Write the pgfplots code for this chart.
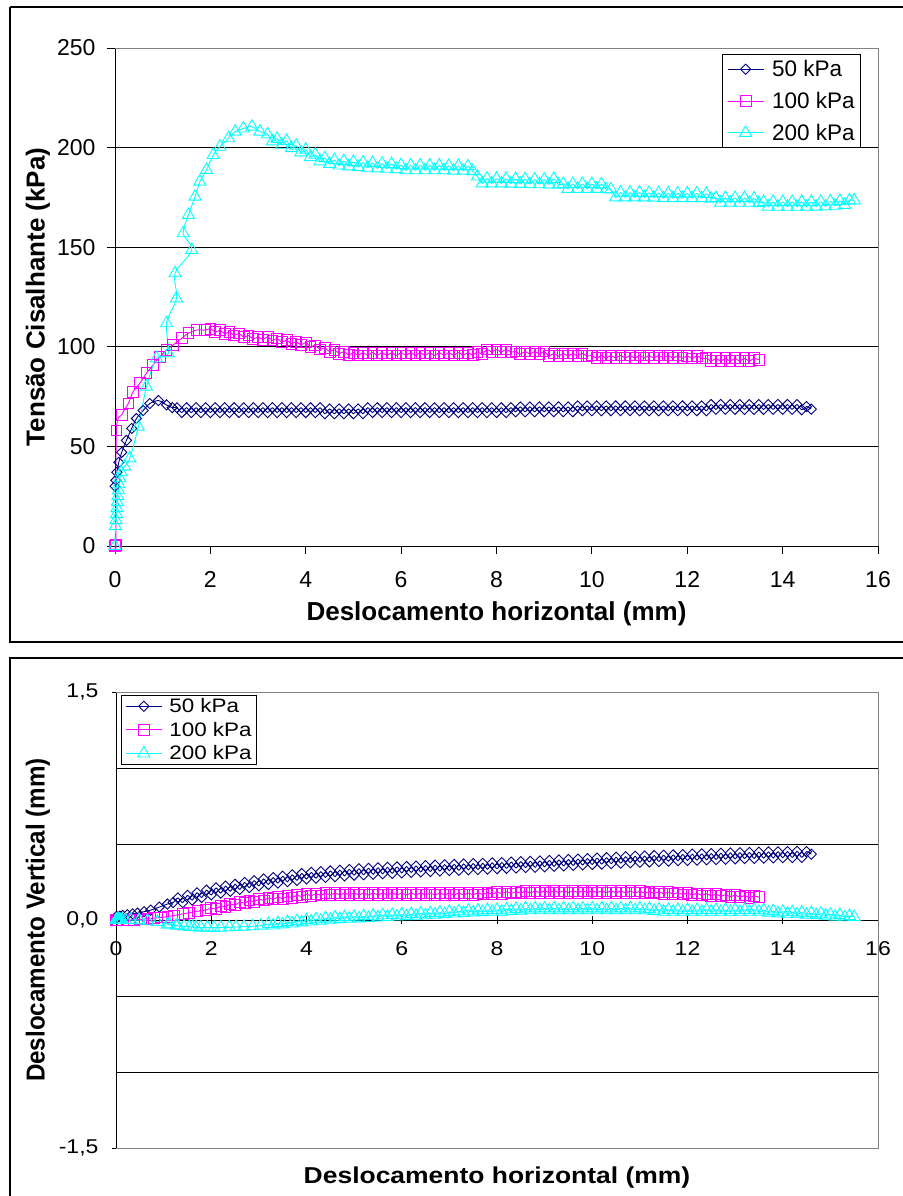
\documentclass[border=0pt]{standalone}
\usepackage{pgfplots}
\pgfplotsset{compat=1.18}
\usepackage{pgfplotstable}
\usepackage{fontspec}
\setmainfont{Liberation Sans}
\newfontfamily\wide[FakeStretch=1.15]{Liberation Sans}
\newfontfamily\narrow[FakeStretch=0.93]{Liberation Sans}

\definecolor{s50}{HTML}{000080}
\definecolor{s100}{HTML}{FF00FF}
\definecolor{s200}{HTML}{00FFFF}

% x: horizontal displacement (mm), t: shear stress (kPa), v: vertical displacement (mm)
\pgfplotstableread{
x t v
0 30 0.02
0.02 33 0.02
0.04 37 0.02
0.08 42 0.025
0.14 47 0.03
0.24 53 0.035
0.35 59 0.04
0.45 64 0.045
0.59 68 0.055
0.73 71.5 0.065
0.91 73 0.085
1.08 70.8 0.105
1.2 69.5 0.115
1.3 69.4 0.145
1.4 67.0 0.114
1.5 69.4 0.162
1.6 67.0 0.131
1.7 69.4 0.179
1.8 67.0 0.148
1.9 69.4 0.196
2.0 67.0 0.165
2.1 69.4 0.211
2.2 67.0 0.177
2.3 69.4 0.223
2.4 67.0 0.189
2.5 69.4 0.235
2.6 67.0 0.201
2.7 69.4 0.247
2.8 67.0 0.213
2.9 69.4 0.259
3.0 67.0 0.225
3.1 69.4 0.270
3.2 67.0 0.234
3.3 69.4 0.279
3.4 67.0 0.243
3.5 69.4 0.288
3.6 67.0 0.252
3.7 69.4 0.297
3.8 67.0 0.261
3.9 69.4 0.306
4.0 67.0 0.270
4.1 69.4 0.313
4.2 67.0 0.275
4.3 69.4 0.318
4.4 66.4 0.280
4.5 68.8 0.323
4.6 66.4 0.285
4.7 68.8 0.328
4.8 66.4 0.290
4.9 68.8 0.333
5.0 66.4 0.295
5.1 68.8 0.337
5.2 66.4 0.298
5.3 69.4 0.340
5.4 67.0 0.301
5.5 69.4 0.343
5.6 67.0 0.304
5.7 69.4 0.346
5.8 67.0 0.307
5.9 69.4 0.349
6.0 67.0 0.310
6.1 69.4 0.352
6.2 67.0 0.313
6.3 69.4 0.355
6.4 67.0 0.316
6.5 69.4 0.358
6.6 67.0 0.319
6.7 69.4 0.361
6.8 67.0 0.322
6.9 69.4 0.364
7.0 67.0 0.325
7.1 69.4 0.366
7.2 67.0 0.327
7.3 69.4 0.369
7.4 67.0 0.330
7.5 69.4 0.371
7.6 67.0 0.332
7.7 69.4 0.373
7.8 67.0 0.334
7.9 69.4 0.376
8.0 67.0 0.337
8.1 69.4 0.378
8.2 67.0 0.340
8.3 69.4 0.381
8.4 67.4 0.342
8.5 69.8 0.384
8.6 67.4 0.345
8.7 69.8 0.386
8.8 67.4 0.347
8.9 69.8 0.389
9.0 67.4 0.350
9.1 69.8 0.392
9.2 67.4 0.353
9.3 69.8 0.395
9.4 67.4 0.356
9.5 69.8 0.398
9.6 67.4 0.359
9.7 70.3 0.401
9.8 67.9 0.362
9.9 70.3 0.404
10.0 67.9 0.365
10.1 70.3 0.407
10.2 67.9 0.368
10.3 70.3 0.410
10.4 67.9 0.371
10.5 70.3 0.413
10.6 67.9 0.374
10.7 70.3 0.416
10.8 67.9 0.377
10.9 70.3 0.419
11.0 67.9 0.380
11.1 70.3 0.421
11.2 67.9 0.382
11.3 70.3 0.424
11.4 67.9 0.385
11.5 70.3 0.426
11.6 67.9 0.387
11.7 70.3 0.428
11.8 67.9 0.390
11.9 70.3 0.431
12.0 67.9 0.392
12.1 70.3 0.433
12.2 67.9 0.394
12.3 70.3 0.435
12.4 67.9 0.396
12.5 71.0 0.437
12.6 68.6 0.398
12.7 71.0 0.439
12.8 68.6 0.400
12.9 71.0 0.441
13.0 68.6 0.402
13.1 71.0 0.443
13.2 68.6 0.404
13.3 71.0 0.444
13.4 68.6 0.405
13.5 71.0 0.446
13.6 68.6 0.407
13.7 71.0 0.448
13.8 68.6 0.408
13.9 71.0 0.449
14.0 68.6 0.410
14.1 71.0 0.450
14.2 68.6 0.411
14.3 71.0 0.452
14.4 68.4 0.412
14.5 70.0 0.450
14.6 68.7 0.433
}\tabA

\pgfplotstableread{
x t v
0 0 0
0.02 0.5 0
0.03 58 0
0.14 65.8 0
0.28 71.6 0
0.38 77.5 0.002
0.52 81.7 0.004
0.66 86.7 0.008
0.8 90.9 0.012
0.94 95 0.017
1.08 98.4 0.022
1.22 100.9 0.03
1.4 104.3 0.04
1.54 106.8 0.048
1.71 108.4 0.058
1.89 108.4 0.066
2.0 109.1 0.078
2.1 107.3 0.073
2.2 108.3 0.092
2.3 106.5 0.087
2.4 107.5 0.105
2.5 105.7 0.099
2.6 106.7 0.117
2.7 104.8 0.111
2.8 105.7 0.128
2.9 103.9 0.120
3.0 105.0 0.137
3.1 103.6 0.129
3.2 105.0 0.145
3.3 103.2 0.136
3.4 104.2 0.150
3.5 102.3 0.141
3.6 103.3 0.156
3.7 101.5 0.147
3.8 102.5 0.163
3.9 100.9 0.154
4.0 102.2 0.170
4.1 100.1 0.159
4.2 100.7 0.173
4.3 98.7 0.162
4.4 99.5 0.176
4.5 97.6 0.165
4.6 98.5 0.177
4.7 96.6 0.165
4.8 97.6 0.177
4.9 95.8 0.165
5.0 97.1 0.177
5.1 95.7 0.165
5.2 97.1 0.177
5.3 95.7 0.165
5.4 97.1 0.177
5.5 95.7 0.165
5.6 97.1 0.177
5.7 95.7 0.165
5.8 97.1 0.177
5.9 95.7 0.165
6.0 97.1 0.177
6.1 95.7 0.165
6.2 97.1 0.177
6.3 95.7 0.165
6.4 97.1 0.177
6.5 95.7 0.165
6.6 97.1 0.177
6.7 95.7 0.165
6.8 97.1 0.177
6.9 95.7 0.165
7.0 97.1 0.177
7.1 95.7 0.165
7.2 97.1 0.177
7.3 95.7 0.165
7.4 97.1 0.177
7.5 95.8 0.166
7.6 97.4 0.179
7.7 96.4 0.168
7.8 98.7 0.181
7.9 97.3 0.170
8.0 98.7 0.184
8.1 97.3 0.173
8.2 98.7 0.186
8.3 97.3 0.174
8.4 97.7 0.187
8.5 96.3 0.176
8.6 97.7 0.189
8.7 96.3 0.178
8.8 97.7 0.191
8.9 96.3 0.179
9.0 97.7 0.192
9.1 95.3 0.180
9.2 96.7 0.192
9.3 95.3 0.180
9.4 96.7 0.192
9.5 95.3 0.180
9.6 96.7 0.192
9.7 95.3 0.180
9.8 96.7 0.192
9.9 95.3 0.180
10.0 95.7 0.192
10.1 94.3 0.180
10.2 95.7 0.192
10.3 94.3 0.180
10.4 95.7 0.192
10.5 94.3 0.179
10.6 95.7 0.191
10.7 94.3 0.178
10.8 95.7 0.190
10.9 94.3 0.177
11.0 95.7 0.189
11.1 94.3 0.176
11.2 95.7 0.187
11.3 94.3 0.174
11.4 95.7 0.186
11.5 94.3 0.173
11.6 95.7 0.184
11.7 94.3 0.170
11.8 95.7 0.181
11.9 94.3 0.168
12.0 95.5 0.178
12.1 94.1 0.165
12.2 95.5 0.175
12.3 94.1 0.162
12.4 94.2 0.172
12.5 92.8 0.159
12.6 94.2 0.170
12.7 92.8 0.156
12.8 94.2 0.167
12.9 92.8 0.153
13.0 94.2 0.164
13.1 92.8 0.150
13.2 94.2 0.161
13.3 92.8 0.147
13.4 94.2 0.158
13.5 93.5 0.150
}\tabB

\pgfplotstableread{
x t v
0 0 0
0.01 10 0
0.02 13 0
0.03 16 0
0.04 19 0
0.05 22 0
0.06 25 0
0.07 28 0
0.08 31 0
0.1 34 0
0.13 37 0
0.2 40 0
0.31 44 0
0.49 59.9 -0.002
0.66 80 -0.005
0.87 94.2 -0.012
1.12 96.7 -0.025
1.08 111.8 -0.03
1.29 124.3 -0.035
1.26 136.9 -0.038
1.61 148.6 -0.046
1.43 157 -0.042
1.54 166.2 -0.045
1.68 175.4 -0.048
1.78 182.9 -0.05
1.92 188.8 -0.05
2.06 196.3 -0.05
2.2 200.4 -0.05
2.38 204.7 -0.048
2.52 208 -0.046
2.69 209.6 -0.044
2.87 210.5 -0.041
3.04 208 -0.037
3.2 206.7 -0.027
3.3 203.1 -0.036
3.4 204.4 -0.021
3.5 201.4 -0.029
3.6 203.3 -0.014
3.7 199.7 -0.023
3.8 200.9 -0.007
3.9 197.6 -0.016
4.0 199.0 -0.001
4.1 195.3 -0.010
4.2 196.4 0.005
4.3 193.1 -0.004
4.4 194.7 0.011
4.5 191.8 0.002
4.6 193.7 0.017
4.7 191.0 0.006
4.8 193.2 0.019
4.9 190.6 0.009
5.0 192.8 0.022
5.1 190.2 0.011
5.2 192.5 0.025
5.3 189.9 0.014
5.4 192.2 0.028
5.5 189.6 0.017
5.6 191.9 0.031
5.7 189.4 0.020
5.8 191.7 0.033
5.9 189.2 0.023
6.0 191.2 0.036
6.1 188.6 0.025
6.2 191.0 0.039
6.3 188.6 0.028
6.4 191.0 0.042
6.5 188.6 0.031
6.6 191.0 0.045
6.7 188.6 0.035
6.8 191.0 0.049
6.9 188.6 0.039
7.0 190.8 0.053
7.1 188.4 0.043
7.2 190.8 0.057
7.3 188.4 0.047
7.4 190.6 0.061
7.5 188.2 0.050
7.6 185.5 0.063
7.7 182.0 0.052
7.8 184.4 0.065
7.9 182.0 0.054
8.0 184.4 0.066
8.1 182.0 0.055
8.2 184.3 0.069
8.3 181.9 0.059
8.4 184.2 0.073
8.5 181.8 0.062
8.6 184.1 0.076
8.7 181.7 0.064
8.8 184.0 0.076
8.9 181.6 0.064
9.0 183.9 0.076
9.1 181.5 0.064
9.2 184.2 0.076
9.3 181.4 0.064
9.4 181.7 0.076
9.5 179.3 0.064
9.6 181.7 0.076
9.7 179.3 0.064
9.8 181.7 0.076
9.9 179.3 0.064
10.0 181.7 0.076
10.1 179.3 0.064
10.2 181.5 0.076
10.3 179.1 0.064
10.4 179.0 0.076
10.5 175.0 0.064
10.6 177.4 0.076
10.7 175.0 0.064
10.8 177.4 0.076
10.9 175.0 0.064
11.0 177.4 0.076
11.1 175.0 0.064
11.2 177.3 0.073
11.3 174.9 0.059
11.4 177.2 0.069
11.5 174.6 0.054
11.6 177.0 0.066
11.7 174.6 0.054
11.8 177.0 0.066
11.9 174.6 0.054
12.0 177.0 0.066
12.1 174.6 0.054
12.2 177.0 0.066
12.3 174.6 0.054
12.4 176.8 0.066
12.5 174.4 0.054
12.6 174.7 0.066
12.7 172.3 0.054
12.8 174.7 0.066
12.9 172.3 0.054
13.0 174.7 0.066
13.1 172.3 0.054
13.2 174.7 0.066
13.3 172.3 0.054
13.4 174.5 0.066
13.5 172.1 0.054
13.6 172.7 0.064
13.7 170.3 0.049
13.8 172.7 0.058
13.9 170.3 0.044
14.0 172.7 0.054
14.1 170.3 0.041
14.2 172.7 0.051
14.3 170.3 0.038
14.4 172.7 0.049
14.5 170.3 0.035
14.6 172.7 0.046
14.7 170.4 0.032
14.8 172.8 0.042
14.9 170.5 0.028
15.0 173.0 0.036
15.1 170.8 0.022
15.2 173.2 0.032
15.3 171.2 0.018
15.4 173.5 0.026
15.5 173.5 0.020
}\tabC

\pgfplotsset{
  ser50/.style={color=s50, line width=0.9pt, smooth, tension=0.5,
    mark=square, mark size=3.6pt, mark options={rotate=45, solid, line width=0.9pt}},
  ser100/.style={color=s100, line width=0.9pt, smooth, tension=0.5,
    mark=square, mark size=5.4pt, mark options={solid, line width=0.9pt}},
  ser200/.style={color=s200, line width=0.9pt, smooth, tension=0.5,
    mark=triangle, mark size=7pt, mark options={solid, line width=0.9pt}},
  excelaxis/.style={
    scale only axis, clip=false,
    xmin=0, xmax=16, xtick={0,2,...,16},
    tick align=outside, major tick length=8pt,
    every tick/.style={black, line width=0.9pt},
    /pgf/number format/assume math mode=true,
    major grid style={black, line width=0.9pt},
    legend cell align=left,
    legend image code/.code={\draw[mark repeat=2,mark phase=2,##1] plot coordinates {(0pt,0pt) (18pt,0pt) (36pt,0pt)};},
  },
}

\begin{document}
\begin{tikzpicture}
% outer frames of the two charts
\draw[line width=1.3pt] (10pt,1189pt) -- (10pt,554pt) -- (930pt,554pt);
\draw[line width=1.3pt] (930pt,1189pt) -- (10pt,1189pt);
\draw[line width=1.3pt] (10pt,-20pt) -- (10pt,538pt) -- (930pt,538pt);

% shear stress
\begin{axis}[excelaxis,
  at={(115pt,650pt)}, anchor=south west,
  width=763pt, height=498pt,
  ymin=0, ymax=250, ytick={0,50,...,250},
  axis x line*=bottom, axis y line*=left,
  axis line style={black, line width=0.9pt},
  extra y ticks={50,100,150,200}, extra y tick labels={},
  extra y tick style={grid=major},
  tick label style={font=\fontsize{23}{27}\selectfont},
  xticklabel style={yshift=-14pt},
  yticklabel style={xshift=-8pt},
  xlabel={Deslocamento horizontal (mm)},
  ylabel={Tensão Cisalhante (kPa)},
  every axis x label/.style={at={(axis description cs:0.5,-0.1365)}, anchor=center,
    font=\bfseries\fontsize{26}{30}\selectfont},
  every axis y label/.style={at={(axis description cs:-0.1009,0.5)}, rotate=90, anchor=center,
    font=\bfseries\fontsize{26}{30}\selectfont},
  legend style={at={(axis description cs:0.9777,0.988)}, anchor=north east,
    draw=black, line width=0.8pt, fill=white,
    font=\fontsize{22.5}{27}\selectfont,
    inner xsep=5pt, inner ysep=5pt, row sep=12pt,
    nodes={inner sep=1pt},
    /tikz/every odd column/.append style={column sep=7pt}},
]
\draw[gray, line width=0.9pt] (rel axis cs:0,1) -- (rel axis cs:1,1) -- (rel axis cs:1,0);
\addplot[ser50] table[x=x, y=t] {\tabA};
\addplot[ser100] table[x=x, y=t] {\tabB};
\addplot[ser200] table[x=x, y=t] {\tabC};
\legend{50 kPa, 100 kPa, 200 kPa}
\end{axis}

% vertical displacement
\begin{axis}[excelaxis,
  at={(116pt,48pt)}, anchor=south west,
  width=762pt, height=456pt,
  ymin=-1.5, ymax=1.5, ytick={-1.5,0,1.5},
  yticklabels={{-1,5},{0,0},{1,5}},
  axis x line=middle, axis y line=left,
  hide obscured x ticks=false, hide obscured y ticks=false,
  axis line style={black, line width=0.9pt, -},
  every inner x axis line/.append style={-},
  every outer y axis line/.append style={-},
  extra y ticks={-1,-0.5,0.5,1}, extra y tick labels={},
  extra y tick style={grid=major, major tick length=0pt},
  tick label style={font=\wide\fontsize{20}{24}\selectfont},
  xticklabel style={yshift=-14pt},
  yticklabel style={xshift=-10pt},
  xlabel={Deslocamento horizontal (mm)},
  ylabel={Deslocamento Vertical (mm)},
  every axis x label/.style={at={(axis description cs:0.5,-0.0658)}, anchor=center,
    font=\wide\bfseries\fontsize{23}{27}\selectfont},
  every axis y label/.style={at={(axis description cs:-0.1024,0.5)}, rotate=90, anchor=center,
    font=\narrow\bfseries\fontsize{26}{30}\selectfont},
  legend style={at={(axis description cs:0.0066,0.9934)}, anchor=north west,
    draw=black, line width=0.8pt, fill=white,
    font=\wide\fontsize{19.5}{23}\selectfont,
    inner xsep=4pt, inner ysep=2pt, row sep=6pt,
    nodes={inner sep=1pt},
    /tikz/every odd column/.append style={column sep=6pt}},
]
\draw[gray, line width=0.9pt] (rel axis cs:0,0) -- (rel axis cs:1,0) -- (rel axis cs:1,1) -- (rel axis cs:0,1);
\addplot[ser50] table[x=x, y=v] {\tabA};
\addplot[ser100] table[x=x, y=v] {\tabB};
\addplot[ser200] table[x=x, y=v] {\tabC};
\legend{50 kPa, 100 kPa, 200 kPa}
\end{axis}

\pgfresetboundingbox
\useasboundingbox (0pt,0pt) rectangle (902pt,1196pt);
\end{tikzpicture}
\end{document}
